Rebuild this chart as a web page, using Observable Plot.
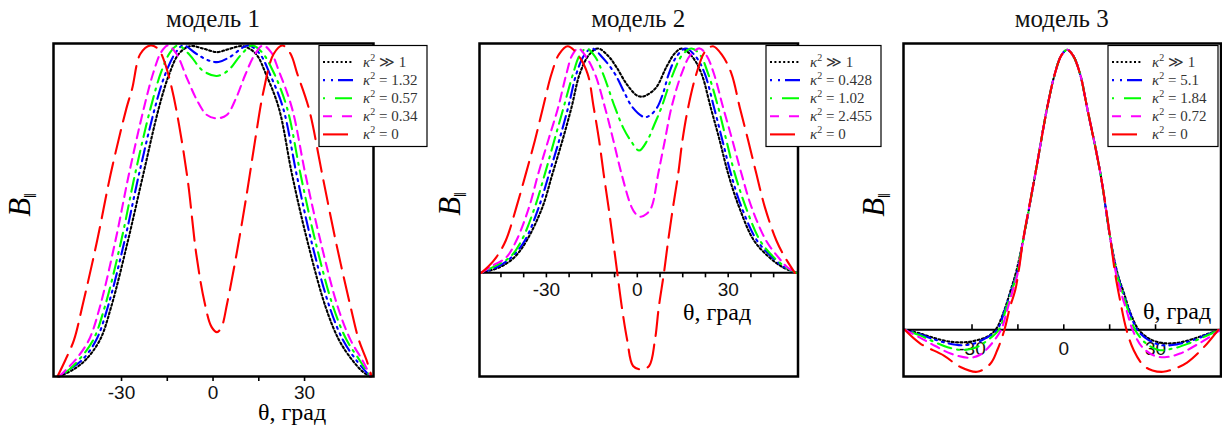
<!DOCTYPE html>
<html><head><meta charset="utf-8">
<script src="https://cdn.jsdelivr.net/npm/d3@7"></script>
<script src="https://cdn.jsdelivr.net/npm/@observablehq/plot@0.6"></script>
<style>
html,body{margin:0;padding:0;background:#fff;}
#wrap{position:relative;width:1222px;height:425px;overflow:hidden;background:#fff;}
#wrap svg{position:absolute;left:0;top:0;overflow:visible;}
</style></head><body><div id="wrap"></div>
<script>
const W = 1222, H = 425;

// ---- labels ----
const titles = ["модель 1", "модель 2", "модель 3"];
const xLabel = "θ, град";
const tickLabels = [-30, 0, 30];
const ticks1 = [-30, -15, 0, 15, 30];
const ticks2 = [-45, -37.5, -30, -22.5, -15, -7.5, 0, 7.5, 15, 22.5, 30, 37.5, 45];
const ticks3 = [-30, -15, 0, 15, 30];
const legend1 = ["≫ 1", "= 1.32", "= 0.57", "= 0.34", "= 0"];
const legend2 = ["≫ 1", "= 0.428", "= 1.02", "= 2.455", "= 0"];
const legend3 = ["≫ 1", "= 5.1", "= 1.84", "= 0.72", "= 0"];

// ---- styles of the 5 series ----
const seriesColors = ["#000000", "#0000ff", "#00ff00", "#ff00ff", "#ff0000"];
const seriesDash = ["2,2.4", "2,5,2,5,13,5", "2,6,14,6", "9,6", "24,9"];
const legendDash = ["2,2.4", "2,6,2,5,15", "2,10,17", "9,10,10", "25,10"];

// ---- model 1 : [theta, B] ----
const m1_kinf = [[-50.5,0],[-46,0.02],[-41.8,0.05],[-37.1,0.11],[-33.4,0.21],[-27.9,0.41],[-22.9,0.61],[-17.8,0.81],[-14.5,0.91],[-11.2,0.975],[-7.5,0.998],[-3,0.99],[1.3,0.98],[5.5,0.99],[9.8,0.998],[14,0.975],[17.5,0.91],[21.6,0.81],[25.9,0.61],[30.9,0.41],[36.9,0.21],[41.3,0.11],[45.6,0.05],[49,0.015],[51.5,0]];
const m1_k132 = [[-50.5,0],[-46.5,0.025],[-42.9,0.05],[-38.3,0.11],[-34.5,0.21],[-29.0,0.41],[-24.3,0.61],[-19.1,0.81],[-15.8,0.91],[-12.5,0.975],[-9.8,1.0],[-5.5,0.975],[-1.5,0.955],[1.8,0.95],[5.5,0.965],[11.5,1.0],[15.3,0.975],[18.8,0.91],[23.0,0.81],[27.4,0.61],[32.2,0.41],[38.2,0.21],[42.6,0.11],[46.9,0.05],[51.5,0]];
const m1_k057 = [[-50.5,0],[-47,0.022],[-44.0,0.05],[-39.3,0.11],[-35.5,0.21],[-30.1,0.41],[-25.6,0.61],[-20.5,0.81],[-17,0.92],[-14,0.98],[-11.5,1.0],[-7.5,0.97],[-3.5,0.925],[1.2,0.908],[5,0.925],[9,0.97],[12.8,1.0],[16,0.98],[19.8,0.92],[24.3,0.81],[28.7,0.61],[33.5,0.41],[39.4,0.21],[43.8,0.11],[48.0,0.05],[51.5,0]];
const m1_k034 = [[-50.5,0],[-48,0.022],[-45.1,0.05],[-40.7,0.11],[-37.1,0.21],[-32.0,0.41],[-27.6,0.61],[-22.7,0.81],[-19.5,0.92],[-17,0.98],[-14.8,1.0],[-12,0.975],[-8.5,0.9],[-5,0.83],[-2,0.79],[1.3,0.78],[4.5,0.79],[7.5,0.84],[10.5,0.91],[13.5,0.97],[16.3,1.0],[19,0.98],[21.5,0.925],[25.9,0.81],[30.3,0.61],[35.2,0.41],[40.9,0.21],[45.1,0.11],[48.9,0.05],[51.7,0]];
const m1_k0 = [[-51,0],[-48.4,0.05],[-45.6,0.11],[-42.9,0.21],[-38.0,0.41],[-33.6,0.61],[-28.4,0.81],[-26.5,0.87],[-23.8,0.975],[-20.5,1.0],[-18,0.99],[-16.1,0.955],[-13.5,0.87],[-11.2,0.763],[-8.3,0.593],[-5.5,0.37],[-2.8,0.225],[-0.5,0.15],[1.3,0.134],[2.8,0.15],[4.6,0.22],[7.9,0.38],[11.2,0.56],[13.9,0.72],[16.5,0.86],[19.9,0.975],[22.8,1.0],[25.4,0.975],[27.6,0.915],[31.4,0.81],[35.8,0.61],[40.2,0.41],[45.1,0.21],[47.8,0.11],[50.3,0.05],[52,0]];

// ---- model 2 ----
const m2_kinf = [[-51.5,0],[-45.4,0.025],[-40.5,0.07],[-36.5,0.144],[-31.3,0.293],[-28.0,0.441],[-24.7,0.59],[-21.7,0.738],[-19.0,0.887],[-16,0.97],[-13,1.0],[-9.5,0.965],[-6.9,0.917],[-3.6,0.843],[-0.3,0.792],[1.5,0.785],[3.5,0.795],[6.3,0.827],[9.6,0.917],[12.5,0.98],[14.8,1.0],[18.3,0.96],[21.2,0.887],[24.2,0.738],[27.2,0.59],[30.0,0.441],[33.6,0.293],[38.5,0.144],[43.5,0.07],[48,0.025],[52.5,0]];
const m2_k0428 = [[-51.5,0],[-46,0.028],[-41.5,0.07],[-37.1,0.144],[-32.5,0.293],[-29.1,0.441],[-25.8,0.59],[-22.8,0.738],[-20.1,0.887],[-17.5,0.97],[-15,1.0],[-11.5,0.96],[-7.4,0.887],[-4.5,0.81],[-1.6,0.738],[2.3,0.694],[4.5,0.705],[6.6,0.738],[8.5,0.8],[10.4,0.887],[13,0.965],[16,1.0],[19.5,0.96],[22.3,0.887],[25.3,0.738],[28.1,0.59],[30.9,0.441],[34.4,0.293],[39.5,0.144],[44.5,0.07],[48.5,0.025],[52.5,0]];
const m2_k102 = [[-51.5,0],[-47,0.03],[-42,0.07],[-38.2,0.144],[-33.8,0.293],[-30.5,0.441],[-27.4,0.59],[-24.3,0.738],[-21.2,0.887],[-19,0.97],[-16.8,1.0],[-14,0.965],[-11.3,0.887],[-7.4,0.738],[-4.6,0.645],[-2.2,0.59],[0.6,0.545],[3.3,0.59],[5.6,0.66],[8.0,0.738],[11.8,0.887],[14.8,0.97],[17.9,1.0],[20.8,0.97],[23.4,0.887],[26.7,0.738],[29.4,0.59],[32.2,0.441],[35.8,0.293],[40.5,0.144],[45,0.07],[49,0.025],[52.5,0]];
const m2_k2455 = [[-51.5,0],[-48,0.03],[-43.2,0.07],[-39.9,0.144],[-35.7,0.293],[-32.7,0.441],[-29.4,0.59],[-26.1,0.738],[-23.4,0.887],[-21.5,0.97],[-19.5,1.0],[-17,0.965],[-14.0,0.887],[-10.7,0.738],[-7.9,0.59],[-5.2,0.441],[-1.9,0.293],[-0.3,0.26],[1.2,0.25],[3,0.262],[4.7,0.293],[6.9,0.441],[9.1,0.59],[11.3,0.738],[14.6,0.887],[17.5,0.97],[20.6,1.0],[23,0.965],[25.3,0.887],[28.3,0.738],[31.4,0.59],[34.4,0.441],[37.7,0.293],[42.5,0.144],[46.5,0.07],[49.5,0.025],[52.5,0]];
const m2_k0 = [[-51.5,0],[-49,0.03],[-46.5,0.07],[-43.4,0.144],[-39.9,0.293],[-36.8,0.441],[-33.8,0.59],[-31.1,0.738],[-28.3,0.887],[-25.8,0.975],[-23,1.01],[-19.5,0.97],[-16.4,0.887],[-14.4,0.738],[-12.6,0.59],[-11.1,0.441],[-9.5,0.293],[-8.0,0.144],[-6.6,0],[-5.1,-0.153],[-3.3,-0.302],[-1.4,-0.415],[1.2,-0.43],[3.9,-0.415],[5.8,-0.302],[7.1,-0.153],[8.8,0],[10.2,0.144],[11.8,0.293],[13.5,0.441],[14.9,0.59],[16.8,0.738],[19.5,0.887],[22.3,0.985],[25,1.01],[28,0.97],[31.1,0.887],[33.8,0.738],[36.6,0.59],[39.3,0.441],[42.1,0.293],[45.9,0.144],[48.7,0.07],[52,0]];

// ---- model 3 (main lobe shared by all curves) ----
const m3_core = [[-13.3,0.32],[-9.3,0.557],[-5.4,0.795],[-2.9,0.915],[-0.8,0.98],[1.1,1.0],[3,0.98],[5.3,0.915],[7.6,0.795],[12.0,0.557],[15.3,0.32]];
const m3_kinf_L = [[-52,0],[-47,-0.013],[-43.4,-0.026],[-38.5,-0.04],[-33.8,-0.045],[-29.5,-0.04],[-25.1,-0.025],[-22.3,0],[-19.6,0.065],[-17.4,0.14],[-15.5,0.21]];
const m3_kinf_R = [[17.6,0.2],[19.7,0.13],[21.8,0.06],[24.5,0],[28.5,-0.035],[33,-0.048],[38,-0.045],[43,-0.03],[47.5,-0.013],[51.2,0]];
const m3_k51_L = [[-52,0],[-47,-0.016],[-43,-0.032],[-38,-0.048],[-33.5,-0.055],[-29,-0.048],[-25.5,-0.03],[-21.8,0],[-19.3,0.07],[-17.2,0.14],[-15.4,0.2]];
const m3_k51_R = [[17.5,0.2],[19.5,0.13],[21.5,0.065],[24,0],[27.5,-0.035],[32,-0.055],[37,-0.052],[42,-0.038],[47,-0.017],[51.2,0]];
const m3_k184_L = [[-52,0],[-47,-0.02],[-43,-0.04],[-38,-0.062],[-33,-0.072],[-28.5,-0.062],[-25,-0.038],[-21.2,0],[-19,0.07],[-17,0.14],[-15.3,0.2]];
const m3_k184_R = [[17.3,0.2],[19.3,0.13],[21,0.07],[23.3,0],[26.5,-0.045],[31,-0.072],[36,-0.066],[41,-0.048],[46.5,-0.022],[51.2,0]];
const m3_k072_L = [[-52,0],[-47,-0.028],[-42,-0.058],[-37,-0.085],[-31,-0.1],[-27.5,-0.09],[-24,-0.055],[-20.5,0],[-18.5,0.07],[-16.7,0.14],[-15.1,0.2]];
const m3_k072_R = [[17.1,0.2],[18.8,0.13],[20.5,0.07],[22.5,0],[25.5,-0.06],[29.5,-0.092],[33,-0.098],[38,-0.085],[44,-0.05],[48.5,-0.02],[51.2,0]];
const m3_k0_L = [[-52,0],[-46.8,-0.05],[-39.2,-0.092],[-33.8,-0.133],[-28.3,-0.15],[-24,-0.121],[-21.8,-0.074],[-19.4,0],[-17.6,0.08],[-15.9,0.14],[-14.6,0.22]];
const m3_k0_R = [[16.8,0.2],[18.5,0.1],[20.5,0],[22.9,-0.074],[26.1,-0.128],[29,-0.145],[32.5,-0.15],[36,-0.14],[40.3,-0.117],[45.8,-0.062],[50.5,0]];

const panels = [
  {left: 53, right: 373, xDomain: [-52.3, 52.6], yDomain: [0, 1.006],
   series: [m1_kinf, m1_k132, m1_k057, m1_k034, m1_k0], ticks: ticks1, tickDir: 1, labelDy: 16, axisLine: false,
   title: titles[0], legend: legend1, legendX: 319, legendW: 108, xLab: [292, 420], yLab: [30, 205]},
  {left: 479, right: 797.5, xDomain: [-52.08, 53.04], yDomain: [-0.462, 1.022],
   series: [m2_kinf, m2_k0428, m2_k102, m2_k2455, m2_k0], ticks: ticks2, tickDir: 1, labelDy: 17, axisLine: true,
   title: titles[1], legend: legend2, legendX: 766, legendW: 115, xLab: [717, 320], yLab: [460, 204]},
  {left: 903, right: 1220.5, xDomain: [-52.4, 51.4], yDomain: [-0.1668, 1.0225],
   series: [
     [...m3_kinf_L, ...m3_core, ...m3_kinf_R],
     [...m3_k51_L, ...m3_core, ...m3_k51_R],
     [...m3_k184_L, ...m3_core, ...m3_k184_R],
     [...m3_k072_L, ...m3_core, ...m3_k072_R],
     [...m3_k0_L, ...m3_core, ...m3_k0_R]],
   ticks: ticks3, tickDir: -1, labelDy: 19, axisLine: true,
   title: titles[2], legend: legend3, legendX: 1108, legendW: 110, xLab: [1177, 319], yLab: [884, 205]}
];

const wrap = document.getElementById("wrap");
const serif = "Liberation Serif, DejaVu Serif, serif";

panels.forEach(p => {
  const marks = [];
  marks.push(Plot.text(tickLabels, {x: d => d, y: d => 0, text: d => String(d), dy: p.labelDy,
    fontSize: 19, fontFamily: "Liberation Sans, Arial, sans-serif", fill: "#111"}));
  if (p.axisLine) marks.push(Plot.ruleY([0], {stroke: "#000", strokeWidth: 2}));
  marks.push(Plot.ruleX(p.ticks, {x: d => d, y1: d => 0, y2: d => 0,
    insetTop: p.tickDir < 0 ? -5 : 0, insetBottom: p.tickDir > 0 ? -5 : 0, stroke: "#000", strokeWidth: 1.6}));
  p.series.forEach((s, i) => marks.push(Plot.line(s, {x: d => d[0], y: d => d[1],
    stroke: seriesColors[i], strokeWidth: 2.1, strokeDasharray: seriesDash[i], curve: "catmull-rom"})));
  marks.push(Plot.frame({stroke: "#000", strokeWidth: 2.5}));

  const svg = Plot.plot({
    width: W, height: H,
    marginLeft: p.left, marginRight: W - p.right, marginTop: 43, marginBottom: H - 376,
    x: {domain: p.xDomain, axis: null},
    y: {domain: p.yDomain, axis: null},
    marks
  });
  const sel = d3.select(svg).style("position", "absolute").style("left", "0px").style("top", "0px")
    .style("overflow", "visible").style("max-width", "none");

  // title
  sel.append("text").attr("x", (p.left + p.right) / 2).attr("y", 26.5).attr("text-anchor", "middle")
    .attr("font-family", serif).attr("font-size", 25).attr("fill", "#111").text(p.title);
  // x label
  sel.append("text").attr("x", p.xLab[0]).attr("y", p.xLab[1]).attr("text-anchor", "middle")
    .attr("font-family", serif).attr("font-size", 24).attr("fill", "#000").text(xLabel);
  // y label  B‖
  const yl = sel.append("text").attr("transform", `translate(${p.yLab[0]},${p.yLab[1]}) rotate(-90)`)
    .attr("text-anchor", "middle").attr("font-family", serif).attr("fill", "#000");
  yl.append("tspan").attr("font-style", "italic").attr("font-size", 31).text("B");
  yl.append("tspan").attr("font-size", 17).attr("dy", 6).text("‖");

  // legend
  const g = sel.append("g");
  g.append("rect").attr("x", p.legendX).attr("y", 45.5).attr("width", p.legendW).attr("height", 101)
    .attr("fill", "#fff").attr("stroke", "#000").attr("stroke-width", 1.2);
  p.legend.forEach((lab, i) => {
    const y = 62 + i * 18.1;
    g.append("line").attr("x1", p.legendX + 4).attr("x2", p.legendX + 34).attr("y1", y).attr("y2", y)
      .attr("stroke", seriesColors[i]).attr("stroke-width", 2.1).attr("stroke-dasharray", legendDash[i]);
    const t = g.append("text").attr("x", p.legendX + 44).attr("y", y + 5).attr("text-anchor", "start")
      .attr("font-family", serif).attr("font-size", 15).attr("fill", "#333");
    t.append("tspan").attr("font-style", "italic").text("κ");
    t.append("tspan").attr("dy", -6).attr("font-size", 10).text("2");
    t.append("tspan").attr("dy", 6).text(" " + lab);
  });
  wrap.appendChild(svg);
});
</script></body></html>
